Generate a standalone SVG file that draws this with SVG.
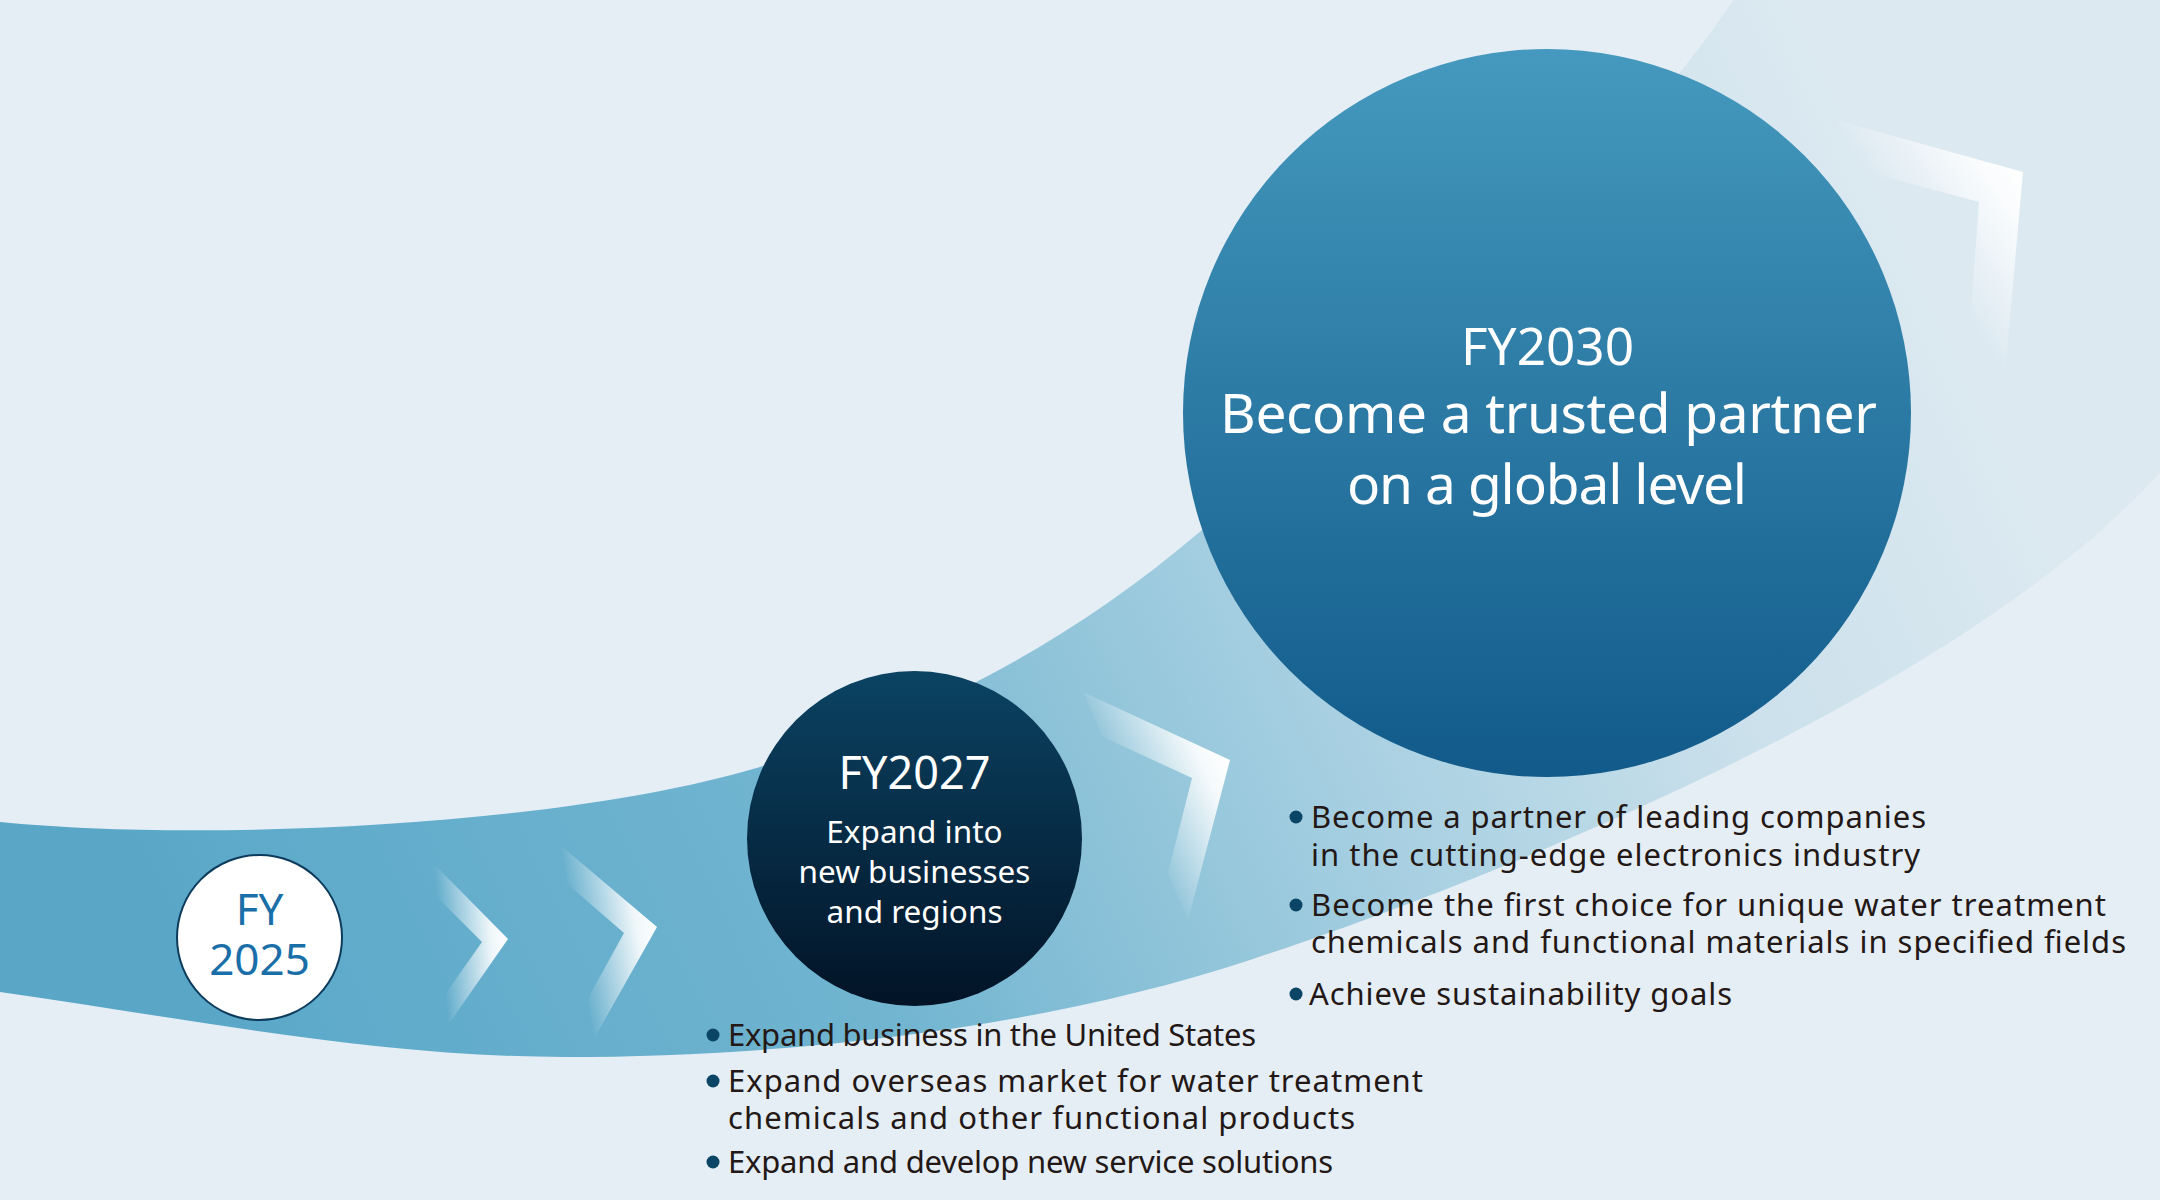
<svg xmlns="http://www.w3.org/2000/svg" width="2160" height="1200" viewBox="0 0 2160 1200">
<style>
text { font-family: "Noto Sans", "Open Sans", "DejaVu Sans", sans-serif; }
.w { fill: #ffffff; text-anchor: middle; }
.h1 { font-size: 51px; }
.h2 { font-size: 55px; }
.h27 { font-size: 45px; }
.s27 { font-size: 31.5px; }
.fy25 { font-size: 44px; fill: #1a6fa9; text-anchor: middle; }
.b { font-size: 31px; fill: #231815; }
.dot { fill: #0b4566; }
.chev { stroke: none; }
</style>
<defs>
<linearGradient id="bandGrad" gradientUnits="userSpaceOnUse" x1="200" y1="1000" x2="1900" y2="200">
<stop offset="0" stop-color="#59a6c7"/>
<stop offset="0.05" stop-color="#5eaaca"/>
<stop offset="0.32" stop-color="#70b4d0"/>
<stop offset="0.5" stop-color="#92c5da"/>
<stop offset="0.6" stop-color="#a6cfe1"/>
<stop offset="0.8" stop-color="#cae0eb"/>
<stop offset="1" stop-color="#dce9f1"/>
</linearGradient>
<linearGradient id="g2030" x1="0" y1="0" x2="0" y2="1">
<stop offset="0" stop-color="#4599be"/>
<stop offset="1" stop-color="#115a8a"/>
</linearGradient>
<linearGradient id="g2027" x1="0" y1="0" x2="0" y2="1">
<stop offset="0" stop-color="#0b4363"/>
<stop offset="1" stop-color="#021326"/>
</linearGradient>
<linearGradient id="c1" gradientUnits="userSpaceOnUse" x1="508" y1="939" x2="441" y2="945">
<stop offset="0" stop-color="#ffffff" stop-opacity="1"/>
<stop offset="0.25" stop-color="#ffffff" stop-opacity="0.9"/>
<stop offset="1" stop-color="#ffffff" stop-opacity="0"/>
</linearGradient>
<linearGradient id="c2" gradientUnits="userSpaceOnUse" x1="657" y1="927" x2="576" y2="941">
<stop offset="0" stop-color="#ffffff" stop-opacity="1"/>
<stop offset="0.25" stop-color="#ffffff" stop-opacity="0.9"/>
<stop offset="1" stop-color="#ffffff" stop-opacity="0"/>
</linearGradient>
<linearGradient id="c3" gradientUnits="userSpaceOnUse" x1="1230" y1="760" x2="1130" y2="807">
<stop offset="0" stop-color="#ffffff" stop-opacity="1"/>
<stop offset="0.25" stop-color="#ffffff" stop-opacity="0.9"/>
<stop offset="1" stop-color="#ffffff" stop-opacity="0"/>
</linearGradient>
<linearGradient id="c4" gradientUnits="userSpaceOnUse" x1="2023" y1="172" x2="1916" y2="246">
<stop offset="0" stop-color="#ffffff" stop-opacity="1"/>
<stop offset="0.25" stop-color="#ffffff" stop-opacity="0.85"/>
<stop offset="1" stop-color="#ffffff" stop-opacity="0"/>
</linearGradient>
</defs>

<rect id="background" x="0" y="0" width="2160" height="1200" fill="#e5eef5"/>

<g id="band">
<path d="M0,822 C200,842 560,827 760,767 C910,722 1052,657.5 1202,530 C1372,385.5 1633,156 1733,0 L2160,0 L2160,473 C1960,693 1500,877 1250,960 C1050,1026 800,1057 565,1057 C380,1057 190,1019 0,992 Z" fill="url(#bandGrad)"/>
</g>

<g id="connectors">
<polygon class="chev" points="435,865 508,939 448,1025 446,993 482,942 437,897" fill="url(#c1)"/>
<polygon class="chev" points="559,844 657,927 595,1037 587,1000 624,933 565,882" fill="url(#c2)"/>
<polygon class="chev" points="1083,692 1230,760 1188,920 1168,873 1192,778 1103,737" fill="url(#c3)"/>
<polygon class="chev" points="1825,117 2023,172 2005,373 1970,325 1979,202 1867,172" fill="url(#c4)"/>
</g>

<g id="node-fy2025">
<circle cx="259.5" cy="937.5" r="82.5" fill="#ffffff" stroke="#0d3b5c" stroke-width="2"/>
<text class="fy25" x="259.5" y="925">FY</text>
<text class="fy25" x="259.5" y="975">2025</text>
</g>

<g id="node-fy2027">
<circle cx="914.5" cy="838.5" r="167.5" fill="url(#g2027)"/>
<text class="w h27" x="914.5" y="789">FY2027</text>
<text class="w s27" x="914.5" y="843">Expand into</text>
<text class="w s27" x="914.5" y="883">new businesses</text>
<text class="w s27" x="914.5" y="923">and regions</text>
</g>

<g id="node-fy2030">
<circle cx="1547" cy="413" r="364" fill="url(#g2030)"/>
<text class="w h1" x="1547.5" y="365" textLength="173" lengthAdjust="spacingAndGlyphs">FY2030</text>
<text class="w h2" x="1548.5" y="433" textLength="657" lengthAdjust="spacing">Become a trusted partner</text>
<text class="w h2" x="1547" y="504" textLength="400" lengthAdjust="spacing">on a global level</text>
</g>

<g id="bullets-fy2027">
<circle class="dot" cx="713" cy="1035" r="6.5"/>
<text class="b" x="728" y="1046" textLength="528" lengthAdjust="spacing">Expand business in the United States</text>
<circle class="dot" cx="713" cy="1081" r="6.5"/>
<text class="b" x="728" y="1092" textLength="695" lengthAdjust="spacing">Expand overseas market for water treatment</text>
<text class="b" x="728" y="1129" textLength="627" lengthAdjust="spacing">chemicals and other functional products</text>
<circle class="dot" cx="713" cy="1162" r="6.5"/>
<text class="b" x="728" y="1173" textLength="605" lengthAdjust="spacing">Expand and develop new service solutions</text>
</g>

<g id="bullets-fy2030">
<circle class="dot" cx="1296" cy="817" r="6.5"/>
<text class="b" x="1311" y="828" textLength="615" lengthAdjust="spacing">Become a partner of leading companies</text>
<text class="b" x="1311" y="866" textLength="609" lengthAdjust="spacing">in the cutting-edge electronics industry</text>
<circle class="dot" cx="1296" cy="905" r="6.5"/>
<text class="b" x="1311" y="916" textLength="795" lengthAdjust="spacing">Become the first choice for unique water treatment</text>
<text class="b" x="1311" y="953" textLength="815" lengthAdjust="spacing">chemicals and functional materials in specified fields</text>
<circle class="dot" cx="1296" cy="994" r="6.5"/>
<text class="b" x="1309" y="1005" textLength="423" lengthAdjust="spacing">Achieve sustainability goals</text>
</g>
</svg>
